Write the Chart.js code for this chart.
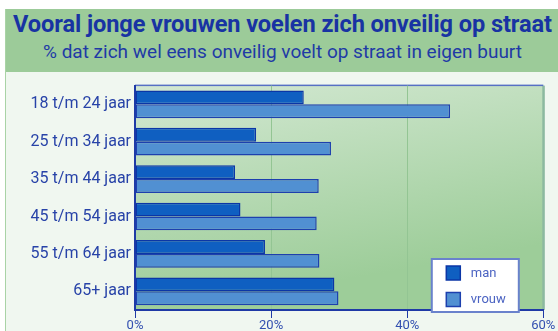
<!DOCTYPE html>
<html>
<head>
<meta charset="utf-8">
<script src="https://cdn.jsdelivr.net/npm/chart.js@4/dist/chart.umd.min.js"></script>
<style>
  html, body { margin: 0; padding: 0; background: #fff; }
  #panel { position: absolute; left: 5px; top: 9px; width: 553px; height: 322px; background: #f0f7f0; border-left: 1px solid #a9d3a6; box-sizing: border-box; }
  #head { position: absolute; left: 0; top: 0; width: 553px; height: 63px; background: #9ccb99; text-align: center; color: #1833a3; }
  #head h1 { position: absolute; left: 0; right: 0; top: 0; margin: 0; font: 700 23.6px/30px Roboto, sans-serif; white-space: nowrap; letter-spacing: -0.1px; }
  #head h2 { position: absolute; left: 0; right: 0; top: 31px; margin: 0; font: 400 19px/24px Roboto, sans-serif; white-space: nowrap; color: #1f3aa6; }
  #wrap { position: absolute; left: 0; top: 72px; width: 558px; height: 259px; }
</style>
</head>
<body>
<div id="panel">
  <div id="head">
    <h1>Vooral jonge vrouwen voelen zich onveilig op straat</h1>
    <h2>% dat zich wel eens onveilig voelt op straat in eigen buurt</h2>
  </div>
</div>
<div id="wrap"><canvas id="chart"></canvas></div>
<script>
const ageGroups = ["18 t/m 24 jaar", "25 t/m 34 jaar", "35 t/m 44 jaar", "45 t/m 54 jaar", "55 t/m 64 jaar", "65+ jaar"];
const manValues = [24.8, 17.8, 14.7, 15.5, 19.1, 29.3];
const vrouwValues = [46.3, 28.8, 27.0, 26.7, 27.1, 29.9];
const xTicks = [0, 20, 40, 60];

const blue = "#1f3aa6";

// green gradient behind the bars plus the frame lines
const plotBackground = {
  id: "plotBackground",
  beforeDraw(chart) {
    const {ctx, chartArea: a} = chart;
    const g = ctx.createLinearGradient(a.left, a.top, a.left + 40, a.bottom);
    g.addColorStop(0, "#d3e8d2");
    g.addColorStop(1, "#9dcd99");
    ctx.save();
    ctx.fillStyle = g;
    ctx.fillRect(a.left, a.top, a.right - a.left, a.bottom - a.top);
    ctx.fillStyle = "#8cb9a0";
    ctx.fillRect(a.right - 1, a.top, 2.5, a.bottom - a.top);
    ctx.fillStyle = "#5670c4";
    ctx.fillRect(a.left, a.top - 1, a.right - a.left, 1.5);
    ctx.restore();
  }
};

// boxed legend sitting in the lower right corner of the plot
const boxLegend = {
  id: "boxLegend",
  afterDraw(chart) {
    const {ctx, chartArea: a} = chart;
    const w = 87, h = 53;
    const x = a.right - 24.5 - w, y = a.bottom + 2 - h;
    ctx.save();
    ctx.fillStyle = "#fff";
    ctx.fillRect(x, y, w, h);
    ctx.strokeStyle = "#6a82cc";
    ctx.lineWidth = 2;
    ctx.strokeRect(x, y, w, h);
    chart.data.datasets.forEach((ds, i) => {
      const sy = y + 7 + i * 26.5;
      ctx.fillStyle = ds.backgroundColor;
      ctx.fillRect(x + 14.5, sy, 14, 14);
      ctx.strokeStyle = ds.borderColor;
      ctx.lineWidth = 1.5;
      ctx.strokeRect(x + 14.5, sy, 14, 14);
      ctx.fillStyle = "#4b63c2";
      ctx.font = "13px Roboto, sans-serif";
      ctx.textBaseline = "middle";
      ctx.fillText(ds.label, x + 39, sy + 7.5);
    });
    ctx.restore();
  }
};

new Chart(document.getElementById("chart"), {
  type: "bar",
  data: {
    labels: ageGroups,
    datasets: [
      { label: "man", data: manValues, backgroundColor: "#0f5fc1", borderColor: "#0b36a6", borderWidth: 1.5, borderSkipped: false },
      { label: "vrouw", data: vrouwValues, backgroundColor: "#5190d2", borderColor: "#1d40ae", borderWidth: 1.5, borderSkipped: false }
    ]
  },
  options: {
    indexAxis: "y",
    responsive: true,
    maintainAspectRatio: false,
    animation: false,
    layout: { padding: { top: 11, right: 14.7, left: 0, bottom: 0 } },
    datasets: { bar: { categoryPercentage: 0.74, barPercentage: 1 } },
    plugins: { legend: { display: false }, tooltip: { enabled: false } },
    scales: {
      x: {
        min: 0, max: 60,
        afterBuildTicks: s => { s.ticks = xTicks.map(v => ({ value: v })); },
        afterFit: s => { s.height = 21; },
        grid: {
          color: ctx => (ctx.tick && (ctx.tick.value === 0 || ctx.tick.value === 60)) ? "rgba(0,0,0,0)" : "#93c593",
          tickColor: blue, tickLength: 8, drawTicks: true
        },
        border: { color: blue, width: 2 },
        ticks: { color: "#3350b0", font: { family: "Roboto", size: 13 }, padding: 0, maxRotation: 0, callback: v => v + "%" }
      },
      y: {
        afterFit: s => { s.width = 135; },
        grid: { display: false, drawTicks: false },
        border: { color: blue, width: 2 },
        ticks: { color: "#2843a8", font: { family: "Roboto", size: 16 }, padding: 4 }
      }
    }
  },
  plugins: [plotBackground, boxLegend]
});
</script>
</body>
</html>
